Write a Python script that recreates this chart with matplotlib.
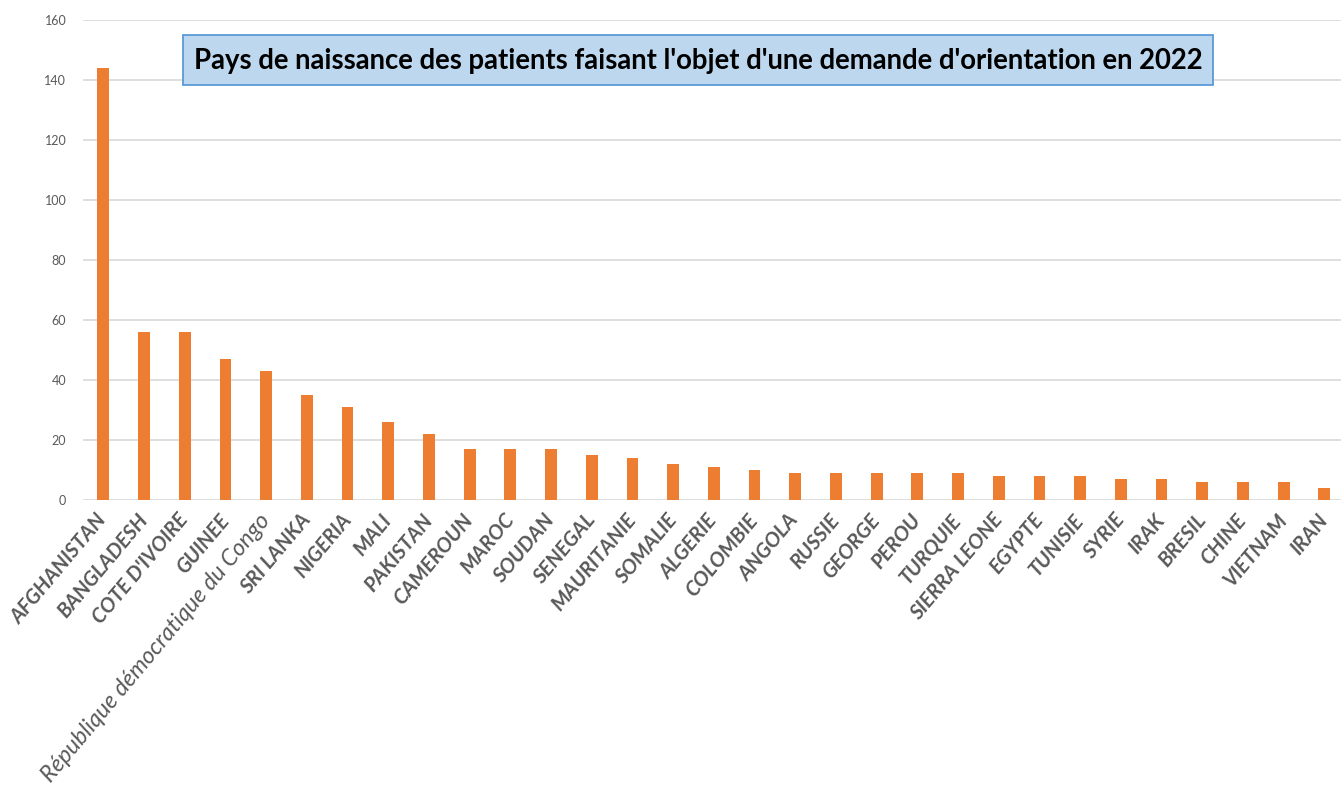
#!/usr/bin/env python3
# -*- coding: utf-8 -*-
import matplotlib
matplotlib.use('Agg')
import matplotlib.pyplot as plt
from matplotlib.patches import Rectangle

# 数据
pays = ['AFGHANISTAN', 'BANGLADESH', "COTE D'IVOIRE", 'GUINEE',
        'République démocratique du Congo', 'SRI LANKA', 'NIGERIA', 'MALI',
        'PAKISTAN', 'CAMEROUN', 'MAROC', 'SOUDAN', 'SENEGAL', 'MAURITANIE',
        'SOMALIE', 'ALGERIE', 'COLOMBIE', 'ANGOLA', 'RUSSIE', 'GEORGE',
        'PEROU', 'TURQUIE', 'SIERRA LEONE', 'EGYPTE', 'TUNISIE', 'SYRIE',
        'IRAK', 'BRESIL', 'CHINE', 'VIETNAM', 'IRAN']
patients = [144, 56, 56, 47, 43, 35, 31, 26, 22, 17, 17, 17, 15, 14, 12, 11,
            10, 9, 9, 9, 9, 9, 8, 8, 8, 7, 7, 6, 6, 6, 4]
y_ticks = [0, 20, 40, 60, 80, 100, 120, 140, 160]
titre = "Pays de naissance des patients faisant l'objet d'une demande d'orientation en 2022"

ORANGE = '#ED7D31'
GRIS = '#595959'
FONT = ['Lato', 'DejaVu Sans']

W, H = 1341, 792
fig = plt.figure(figsize=(W / 100, H / 100), dpi=100)
left, right, top, bottom = 83, 1341, 20, 500
ax = fig.add_axes([left / W, 1 - bottom / H, (right - left) / W, (bottom - top) / H])

x = range(len(pays))
ax.bar(x, patients, width=0.29, color=ORANGE, zorder=3)

ax.set_ylim(0, 160)
ax.set_xlim(-0.5, -0.5 + (right - left) / 40.7)
ax.set_yticks(y_ticks)
ax.set_yticklabels([str(v) for v in y_ticks], fontsize=9, color=GRIS, family=FONT)
ax.grid(axis='y', color='#D9D9D9', linewidth=1.2, zorder=0)
for s in ax.spines.values():
    s.set_visible(False)
ax.tick_params(axis='both', length=0)
ax.tick_params(axis='y', pad=12)

ax.set_xticks(list(x))
ax.set_xticklabels(pays, rotation=50, ha='right', va='center', rotation_mode='anchor',
                   fontsize=14.8, color=GRIS, family=FONT, weight='bold', style='italic')
ax.tick_params(axis='x', pad=12)
for lab in ax.get_xticklabels():
    if lab.get_text().startswith('République'):
        lab.set_fontweight('normal')
        lab.set_fontsize(16.7)

# 标题框
fig.patches.append(Rectangle((183 / W, 1 - 85 / H), 1030 / W, 50 / H,
                             transform=fig.transFigure, facecolor='#BDD7EE',
                             edgecolor='#5B9BD5', linewidth=1.3, zorder=5))
fig.text(698 / W, 1 - 61 / H, titre, ha='center', va='center', fontsize=19.8,
         family=FONT, weight='bold', color='black', zorder=6)

plt.savefig('out.png', dpi=100)
